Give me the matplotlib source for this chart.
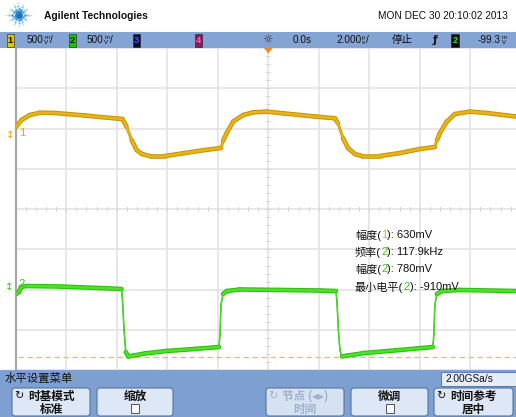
import numpy as np
import matplotlib
matplotlib.use("Agg")
import matplotlib.pyplot as plt
from matplotlib.collections import LineCollection
from matplotlib.patches import Rectangle, FancyBboxPatch, Polygon

# ---- acquisition settings ----
TIME_PER_DIV_US = 2.0
VOLTS_PER_DIV = 0.5
CH1_POSITION_DIV = 1.865
CH2_POSITION_DIV = -1.858

# ---- channel 1 (yellow): time in microseconds, level in volts ----
ch1_time_us = [-9.99, -9.77, -9.44, -9.04, -8.45, -7.97, -7.26, -6.67, -6.07, -5.77,
               -5.61, -5.41, -5.21, -5.00, -4.69, -4.09, -3.30, -2.51, -1.87, -1.79,
               -1.65, -1.39, -0.99, -0.59, -0.06, 0.58, 1.26, 1.92, 2.64, 2.76,
               2.96, 3.16, 3.43, 3.71, 4.42, 5.22, 6.01, 6.60, 6.68, 6.80,
               7.07, 7.39, 7.99, 8.65, 9.81]
ch1_volts = [0.087, 0.174, 0.236, 0.264, 0.261, 0.248, 0.230, 0.211, 0.195, 0.186,
             0.091, -0.074, -0.199, -0.248, -0.273, -0.273, -0.236, -0.199, -0.174, -0.087,
             0.009, 0.153, 0.236, 0.269, 0.278, 0.257, 0.236, 0.215, 0.195, 0.136,
             -0.050, -0.174, -0.248, -0.273, -0.273, -0.236, -0.186, -0.161, -0.080, 0.012,
             0.153, 0.248, 0.278, 0.261, 0.217]

# ---- channel 2 (green): time in microseconds, level in volts ----
ch2_time_us = [-9.99, -9.87, -9.79, -9.60, -8.25, -6.67, -5.81, -5.77, -5.71, -5.64,
               -5.54, -5.32, -4.88, -4.01, -2.90, -1.95, -1.91, -1.87, -1.79, -1.64,
               -1.12, 0.46, 2.05, 2.68, 2.72, 2.78, 2.84, 2.92, 3.16, 3.83,
               5.22, 6.52, 6.56, 6.60, 6.68, 6.88, 7.59, 9.81]
ch2_volts = [-0.124, -0.099, -0.037, -0.025, -0.031, -0.050, -0.062, -0.199, -0.571, -0.844,
             -0.900, -0.887, -0.862, -0.831, -0.806, -0.782, -0.633, -0.261, -0.124, -0.087,
             -0.068, -0.074, -0.081, -0.087, -0.199, -0.571, -0.819, -0.900, -0.887, -0.856,
             -0.819, -0.782, -0.633, -0.261, -0.124, -0.087, -0.074, -0.087]

# ---- measurement readout ----
meas_names = ["幅度", "频率", "幅度", "最小电平"]
meas_sources = ["1", "2", "2", "2"]
meas_values = [630, 117.9, 780, -910]
meas_units = ["mV", "kHz", "mV", "mV"]
CH2_MIN_LEVEL_V = -0.910

# ---- status bar ----
ch_scale_text = ["500", "500"]
time_ref_text = "0.0s"
time_scale_text = "2.000"
run_state_text = "停止"
trigger_level_text = "-99.3"
sample_rate_text = "2.00GSa/s"
date_text = "MON DEC 30 20:10:02 2013"

W, H = 516, 417
LAT = ["Liberation Sans", "Noto Sans CJK SC", "DejaVu Sans"]
CJK = ["Noto Sans CJK SC", "DejaVu Sans"]
YEL = "#f0a800"
GRN = "#33cc11"

fig = plt.figure(figsize=(W / 100, H / 100), dpi=100)
fig.patch.set_facecolor("white")

# ---- waveform area: 10 x 8 divisions ----
left_px, right_px, top_px, bot_px = 15.7, 520.7, 48.0, 370.3
ax = fig.add_axes([left_px / W, 1 - bot_px / H, (right_px - left_px) / W, (bot_px - top_px) / H])
ax.set_xlim(-5 * TIME_PER_DIV_US, 5 * TIME_PER_DIV_US)
ax.set_ylim(-4, 4)
ax.set_axis_off()
ax.add_patch(Rectangle((-10, -4), 20, 8, facecolor="white", edgecolor="none", zorder=0))
px_per_us = (right_px - left_px) / (10 * TIME_PER_DIV_US)
px_per_div = (bot_px - top_px) / 8

for i in range(-5, 6):
    ax.axvline(i * TIME_PER_DIV_US, color="#e0e0e0", lw=1.1, zorder=1)
for j in range(-4, 5):
    ax.axhline(j, color="#e0e0e0", lw=1.1, zorder=1)
ax.axvline(-10, color="#a8a8a8", lw=1.6, zorder=2, clip_on=False)
# minor ticks on the centre cross
for yv in np.arange(-4, 4.001, 0.2):
    ax.plot([-2 / px_per_us, 2 / px_per_us], [yv, yv], color="#d6d6d6", lw=0.7, zorder=1)
for xv in np.arange(-10, 10.001, 0.4):
    ax.plot([xv, xv], [-2 / px_per_div, 2 / px_per_div], color="#d6d6d6", lw=0.7, zorder=1)

# marker for the channel-2 minimum level
ax.axhline(CH2_MIN_LEVEL_V / VOLTS_PER_DIV + CH2_POSITION_DIV, xmin=0.005,
           color="#f6b07a", lw=0.9, dashes=(4.3, 2.9), zorder=2)


def trace(t, v, pos, outer, inner, thick, thin, steep_ratio):
    x = np.asarray(t, float)
    y = np.asarray(v, float) / VOLTS_PER_DIV + pos
    pts = np.column_stack([x, y])
    segs = np.stack([pts[:-1], pts[1:]], axis=1)
    dx = np.abs(np.diff(x)) * px_per_us
    dy = np.abs(np.diff(y)) * px_per_div
    steep = dy > steep_ratio * dx
    w_out = np.where(steep, thin, thick) * 0.72
    w_in = np.where(steep, thin * 0.6, thick * 0.55) * 0.72
    ax.add_collection(LineCollection(segs, linewidths=w_out, colors=outer,
                                     capstyle="round", joinstyle="round", zorder=4))
    ax.add_collection(LineCollection(segs, linewidths=w_in, colors=inner,
                                     capstyle="round", joinstyle="round", zorder=5))


trace(ch1_time_us, ch1_volts, CH1_POSITION_DIV, "#c89400", "#e8b41c", 4.6, 3.0, 2.5)
trace(ch2_time_us, ch2_volts, CH2_POSITION_DIV, "#2cbf0c", "#4ee02a", 4.6, 1.6, 3.0)

# ---- screen furniture in pixel coordinates ----
ui = fig.add_axes([0, 0, 1, 1], zorder=3)
ui.set_xlim(0, W)
ui.set_ylim(H, 0)
ui.set_axis_off()
renderer = fig.canvas.get_renderer()


def box(x0, y0, x1, y1, fc, ec="none", lw=0.0, z=1):
    ui.add_patch(Rectangle((x0, y0), x1 - x0, y1 - y0, facecolor=fc, edgecolor=ec, lw=lw, zorder=z))


def txt(x, y, s, size, color="#101010", family=LAT, ha="left", weight="normal", z=5):
    return ui.text(x, y, s, fontsize=size, color=color, family=family, ha=ha, va="center",
                   weight=weight, zorder=z)


def runs(x, y, parts, size, family=LAT, weight="normal"):
    for s, c in parts:
        t = txt(x, y, s, size, color=c, family=family, weight=weight)
        x += t.get_window_extent(renderer).width
    return x


def stacked(x, y, top, bottom, size):
    a = txt(x, y - 3.0, top, size * 0.62)
    b = txt(x, y + 2.6, bottom, size * 0.62)
    return x + max(a.get_window_extent(renderer).width, b.get_window_extent(renderer).width)


# header
cx, cy = 18.5, 14.5
for k in range(12):
    ang = np.deg2rad(k * 30)
    for r, s, c in [(2.5, 6, "#2f86cc"), (5.5, 4, "#4aa3df"), (8.5, 2.6, "#7cc0ea"), (11.2, 1.4, "#a9d6f2")]:
        sx = 1.15 if k % 3 == 0 else 0.85
        ui.scatter(cx + r * np.cos(ang) * sx, cy + r * np.sin(ang), s=s, color=c, lw=0, zorder=4)
ui.scatter(cx, cy, s=14, color="#1f6fb8", lw=0, zorder=4)
txt(44, 15.5, "Agilent Technologies", 7.4, color="#111111", weight="bold")
txt(508, 16, date_text, 7.3, color="#111111", ha="right")

# status bar
box(0, 32, W, 47.5, "#84a4d4")
def chan_box(x0, x1, fc, label, lc):
    box(x0, 33.5, x1, 46.5, fc, ec="#202020", lw=0.4, z=3)
    txt((x0 + x1) / 2, 40.2, label, 6.6, color=lc, ha="center", weight="bold")

chan_box(6.8, 13.6, "#e2c400", "1", "#111111")
x = runs(27, 40, [(ch_scale_text[0], "#111111")], 7.2)
x = stacked(x + 0.5, 40, "m", "V", 7.2)
runs(x + 0.5, 40, [("/", "#111111")], 7.2)
chan_box(69, 76, "#1fc400", "2", "#111111")
x = runs(87, 40, [(ch_scale_text[1], "#111111")], 7.2)
x = stacked(x + 0.5, 40, "m", "V", 7.2)
runs(x + 0.5, 40, [("/", "#111111")], 7.2)
chan_box(132.5, 139.5, "#0c0c30", "3", "#3c5cff")
chan_box(195, 202, "#8a1a5a", "4", "#ff5cc0")
txt(267, 40, "☼", 8.5, color="#333333", family=["DejaVu Sans"], ha="center")
txt(293, 40, time_ref_text, 7.2)
x = runs(336, 40, [(time_scale_text, "#111111")], 7.2)
x = stacked(x + 0.5, 40, "µ", "s", 7.2)
runs(x + 0.5, 40, [("/", "#111111")], 7.2)
txt(392, 40, run_state_text, 7.6, family=CJK)
txt(435, 40, "ƒ", 7.6, color="#111111", family=["DejaVu Sans"], ha="center", weight="bold")
chan_box(451, 458.5, "#0a0a0a", "2", "#3ce81c")
x = runs(478, 40, [(trigger_level_text, "#111111")], 7.2)
stacked(x + 0.5, 40, "m", "V", 7.2)

# trigger position marker
ui.add_patch(Polygon([[263.8, 48], [272.8, 48], [268.3, 53.5]], closed=True,
                     facecolor="#f08a24", edgecolor="none", zorder=4))

# channel ground markers
txt(10, 135, "↕", 7.5, color=YEL, family=["DejaVu Sans"], ha="center")
txt(19.5, 132.5, "1", 8.2, color=YEL)
txt(9.5, 287, "↕", 7.5, color=GRN, family=["DejaVu Sans"], ha="center")
txt(18, 284, "2", 8.2, color=GRN)

# measurement readout
meas_y = [235, 252.3, 269.3, 287.3]
for name, src, val, unit, yy in zip(meas_names, meas_sources, meas_values, meas_units, meas_y):
    col = YEL if src == "1" else GRN
    runs(355, yy, [(name + "(", "#111111"), (src, col), ("): " + f"{val:g}" + unit, "#111111")], 8.0)

# bottom menu
box(0, 370.3, W, H, "#7d9fd2")
txt(5, 378.5, "水平设置菜单", 8.2, family=CJK)
box(441, 372, 518, 385.5, "#e4ecf8", ec="#4e6ea4", lw=0.6, z=2)
txt(445, 378.8, sample_rate_text, 7.3)

buttons = [
    (12, 90, "时基模式", "标准", True, False, True),
    (97, 173, "缩放", None, False, True, True),
    (266, 344, "节点 (◂▸)", "时间", True, False, False),
    (351, 428, "微调", None, False, True, True),
    (434, 513, "时间参考", "居中", True, False, True),
]
for x0, x1, l1, l2, icon, check, enabled in buttons:
    ui.add_patch(FancyBboxPatch((x0, 388), x1 - x0, 28, boxstyle="round,pad=0,rounding_size=3",
                                facecolor="#dde7f6" if enabled else "#d6e1f2",
                                edgecolor="#56779f", lw=0.8, zorder=2))
    col = "#111111" if enabled else "#9fb0cb"
    xc = (x0 + x1) / 2
    if icon:
        txt(x0 + 7, 396, "↻", 8, color=col if enabled else "#9fb0cb", family=["DejaVu Sans"], ha="center")
        txt(x0 + 16, 396, l1, 8.4, color=col, family=CJK, weight="bold")
    else:
        txt(xc, 396, l1, 8.4, color=col, family=CJK, ha="center", weight="bold")
    if l2:
        txt(xc, 409.5, l2, 8.4, color=col, family=CJK, ha="center", weight="bold")
    if check:
        box(xc - 4, 403.5, xc + 4, 413, "#f6f8fc", ec="#3a3a3a", lw=0.6, z=3)

fig.savefig("out.png", dpi=100, facecolor="white")
